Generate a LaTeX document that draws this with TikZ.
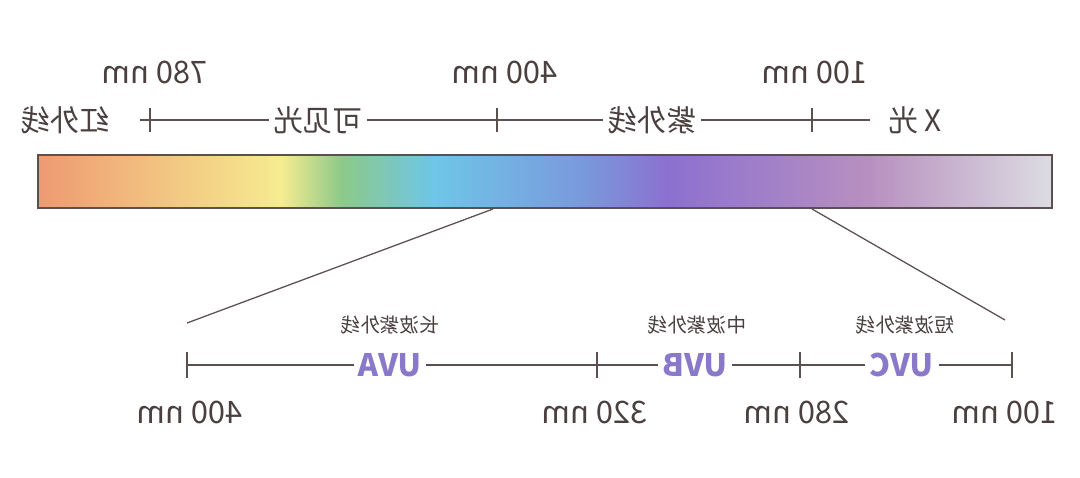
\documentclass[tikz,border=0pt]{standalone}
\usepackage{fontspec}
\setmainfont{Noto Sans CJK SC}
\usepackage{tikz}
\usetikzlibrary{positioning,calc}
\definecolor{txt}{HTML}{4A4040}
\definecolor{uvc}{HTML}{8A78C8}
\definecolor{ln}{HTML}{5A5050}
\definecolor{sA}{HTML}{EE9A72}
\definecolor{sB}{HTML}{F6EC90}
\definecolor{sC}{HTML}{8CC98A}
\definecolor{sD}{HTML}{6EC6E8}
\definecolor{sE}{HTML}{7A98DC}
\definecolor{sF}{HTML}{8C70D0}
\definecolor{sG}{HTML}{B890C0}
\definecolor{sH}{HTML}{DCDCE2}
\pgfdeclarehorizontalshading{spectrum}{100bp}{%
  color(0bp)=(sA);
  color(25bp)=(sA);
  color(37bp)=(sB);
  color(40bp)=(sC);
  color(44.5bp)=(sD);
  color(52bp)=(sE);
  color(56bp)=(sF);
  color(66bp)=(sG);
  color(75bp)=(sH);
  color(100bp)=(sH)}
\tikzset{
  mirror/.style={xscale=-1},
  big/.style={mirror, text=txt, font=\fontsize{21}{24}\selectfont},
  nm/.style={mirror, text=txt, font=\fontsize{22}{24}\selectfont},
  small/.style={mirror, text=txt, font=\fontsize{14}{16}\selectfont},
  uv/.style={mirror, text=uvc, font=\bfseries\fontsize{22}{24}\selectfont},
  rule/.style={ln, line width=1pt},
}
\begin{document}
\begin{tikzpicture}[x=0.025cm, y=-0.025cm]
  \useasboundingbox (0,0) rectangle (1080,478);

  % spectrum bar
  \shade[shading=spectrum, draw=ln, line width=1.2pt] (38,155) rectangle (1052,208);

  % top scale
  \coordinate (T0) at (140,120);
  \coordinate (T1) at (150,120);
  \coordinate (T2) at (497,120);
  \coordinate (T3) at (812,120);
  \coordinate (T4) at (870,120);
  \node[big] (IR)  at (65,120)  {红外线};
  \node[big] (VIS) at (318,120) {可见光};
  \node[big] (UV)  at (652,120) {紫外线};
  \node[big] (XR)  at (915,120) {X 光};
  \draw[rule] (T0) -- (T1) -- (VIS) (VIS) -- (T2) -- (UV) (UV) -- (T3) -- (T4);
  \foreach \t in {T1,T2,T3}
    \draw[rule] ($(\t)+(0,-12)$) -- ($(\t)+(0,12)$);
  \node[nm] (N780) at (155,72) {780 nm};
  \node[nm] (N400) at (505,72) {400 nm};
  \node[nm] (N100) at (815,72) {100 nm};

  % zoom lines
  \coordinate (ZA) at (493,209);
  \coordinate (ZB) at (812,209);
  \coordinate (ZC) at (187,323);
  \coordinate (ZD) at (1005,320);
  \draw[ln, line width=0.9pt] (ZA) -- (ZC);
  \draw[ln, line width=0.9pt] (ZB) -- (ZD);

  % bottom scale
  \coordinate (B1) at (187,365);
  \coordinate (B2) at (597,365);
  \coordinate (B3) at (800,365);
  \coordinate (B4) at (1012,365);
  \node[uv] (UVA) at (390,365) {UVA};
  \node[uv] (UVB) at (695,365) {UVB};
  \node[uv] (UVC) at (902,365) {UVC};
  \draw[rule] (B1) -- (UVA) (UVA) -- (B2) -- (UVB) (UVB) -- (B3) -- (UVC) (UVC) -- (B4);
  \foreach \t in {B1,B2,B3,B4}
    \draw[rule] ($(\t)+(0,-13)$) -- ($(\t)+(0,13)$);
  \node[small] (LA) at (390,325) {长波紫外线};
  \node[small] (LB) at (697,325) {中波紫外线};
  \node[small] (LC) at (905,325) {短波紫外线};
  \node[nm] (M400) at (190,412) {400 nm};
  \node[nm] (M320) at (595,412) {320 nm};
  \node[nm] (M280) at (797,412) {280 nm};
  \node[nm] (M100) at (1005,412) {100 nm};
\end{tikzpicture}
\end{document}
